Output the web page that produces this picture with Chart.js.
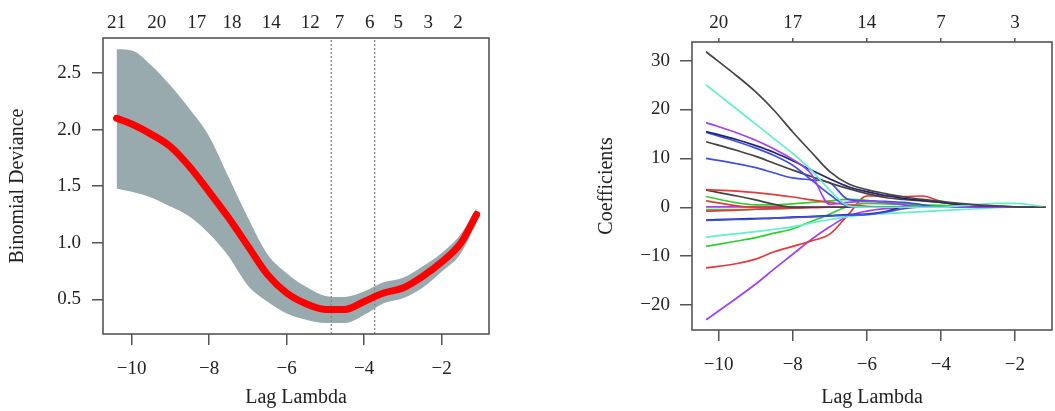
<!DOCTYPE html>
<html>
<head>
<meta charset="utf-8">
<script src="https://cdn.jsdelivr.net/npm/chart.js@4/dist/chart.umd.min.js"></script>
<style>
  html, body { margin: 0; padding: 0; background: #fff; }
  #wrap { position: relative; width: 1055px; height: 411px; overflow: hidden; }
  #cv { position: absolute; left: 0; top: 0; }
  #coef { position: absolute; left: 530px; top: 0; }
</style>
</head>
<body>
<div id="wrap">
  <canvas id="cv" width="530" height="411"></canvas>
  <canvas id="coef" width="525" height="411"></canvas>
</div>
<script>
// ── left panel: cross-validation curve ──
const cvLambda = [-10.39, -10, -9.5, -9, -8.5, -8, -7.5, -7, -6.5, -6, -5.5, -5, -4.5, -4, -3.5, -3, -2.5, -2, -1.5, -1.1];
const cvMean   = [2.10, 2.05, 1.96, 1.85, 1.67, 1.45, 1.22, 0.97, 0.72, 0.555, 0.46, 0.41, 0.41, 0.48, 0.555, 0.60, 0.70, 0.83, 1.0, 1.25];
const cvUpper  = [2.71, 2.70, 2.57, 2.39, 2.18, 1.94, 1.58, 1.22, 0.90, 0.73, 0.61, 0.53, 0.52, 0.57, 0.65, 0.69, 0.79, 0.91, 1.08, 1.31];
const cvLower  = [1.48, 1.45, 1.40, 1.32, 1.23, 1.08, 0.88, 0.62, 0.48, 0.375, 0.32, 0.29, 0.29, 0.36, 0.465, 0.51, 0.60, 0.745, 0.91, 1.19];
const cvCutoffs = [-4.85, -3.73];            // lambda.min, lambda.1se
const cvTopPos  = [-10.39, -9.35, -8.32, -7.41, -6.40, -5.39, -4.64, -3.86, -3.12, -2.35, -1.58];
const cvTopLbl  = ['21', '20', '17', '18', '14', '12', '7', '6', '5', '3', '2'];
const cvXTicks  = [-10, -8, -6, -4, -2];
const cvYTicks  = [0.5, 1.0, 1.5, 2.0, 2.5];

// ── right panel: coefficient paths ──
const cfLambda = [-10.34, -9.5, -9, -8.5, -8, -7.5, -7, -6.5, -6, -5.5, -5, -4.5, -4, -3.5, -3, -2.5, -2, -1.5, -1.18];
const cfPaths = [
  { col: '#444444', v: [31.8, 26.8, 23.6, 19.8, 15.4, 11.3, 7.3, 4.8, 3.6, 2.8, 2.1, 1.6, 1.2, 0.8, 0.5, 0.3, 0.1, 0, 0] },
  { col: '#66eec8', v: [25.0, 20.0, 17.0, 14.0, 11.0, 7.6, 3.5, 0.3, 0, 0, 0, 0, 0, 0.3, 0.6, 0.8, 0.8, 0.4, 0] },
  { col: '#a040f0', v: [17.3, 15.2, 13.7, 11.9, 9.8, 6.8, 0.6, 1.0, 1.2, 1.0, 0.5, 0, 0, 0, 0, 0, 0, 0, 0] },
  { col: '#22226e', v: [15.5, 13.8, 12.6, 11.2, 9.5, 7.6, 5.8, 4.2, 3.2, 2.4, 1.8, 1.4, 1.0, 0.6, 0.3, 0.1, 0, 0, 0] },
  { col: '#3f4fe0', v: [15.3, 13.4, 12.1, 10.6, 8.6, 5.6, 2.6, 0.2, 0, 0, 0, 0, 0, 0, 0, 0, 0, 0, 0] },
  { col: '#444444', v: [13.4, 11.6, 10.4, 9.0, 7.6, 6.3, 5.0, 3.8, 2.8, 2.0, 1.6, 1.3, 1.0, 0.6, 0.3, 0.1, 0, 0, 0] },
  { col: '#3f4fe0', v: [10.0, 8.9, 8.1, 7.0, 6.0, 5.6, 5.0, 1.6, 1.3, 1.2, 1.0, 0.5, 0, 0, 0, 0, 0, 0, 0] },
  { col: '#e03a3a', v: [3.6, 3.3, 3.0, 2.6, 2.1, 1.5, 1.0, 0.5, 0.2, 0, 0, 0, 0, 0, 0, 0, 0, 0, 0] },
  { col: '#444444', v: [3.5, 2.3, 1.5, 0.6, 0, 0, 0, 0, 0, 0, 0, 0, 0, 0, 0, 0, 0, 0, 0] },
  { col: '#33cc33', v: [2.2, 0.9, 0.5, 0.5, 0.7, 1.0, 1.3, 1.6, 1.4, 1.0, 0.7, 0.5, 0.4, 0.3, 0.3, 0.2, 0.1, 0.05, 0] },
  { col: '#e03a3a', v: [1.3, 0.3, 0, 0, 0, 0, 0, 0, 0, 0, 0, 0, 0, 0, 0, 0, 0, 0, 0] },
  { col: '#a040f0', v: [0.1, 0.1, 0.1, 0.1, 0.1, 0.1, 0.1, 0, 0, 0, 0, 0, 0, 0, 0, 0, 0, 0, 0] },
  { col: '#e03a3a', v: [-0.8, -0.6, -0.4, -0.3, -0.2, -0.1, 0, 0, 0, 0, 0, 0, 0, 0, 0, 0, 0, 0, 0] },
  { col: '#33cc33', v: [-0.5, -0.5, -0.4, -0.3, -0.2, 0, 0, 0, 0, 0, 0, 0, 0, 0, 0, 0, 0, 0, 0] },
  { col: '#3f4fe0', v: [-2.7, -2.5, -2.4, -2.2, -2.1, -1.9, -1.8, -1.6, -1.5, -1.0, -0.3, 0, 0, 0, 0, 0, 0, 0, 0] },
  { col: '#22226e', v: [-2.6, -2.4, -2.3, -2.2, -2.0, -1.9, -1.7, -1.5, -1.4, -0.9, 0, 0, 0, 0, 0, 0, 0, 0, 0] },
  { col: '#66eec8', v: [-6.1, -5.4, -5.0, -4.5, -4.0, -3.2, -2.5, -1.9, -1.5, -1.3, -1.1, -0.9, -0.7, -0.5, -0.3, -0.1, 0, 0, 0] },
  { col: '#33cc33', v: [-8.0, -6.9, -6.2, -5.3, -4.4, -2.9, -1.4, 0.2, 0.8, 0.7, 0.5, 0.3, 0.1, 0, 0, 0, 0, 0, 0] },
  { col: '#e03a3a', v: [-12.4, -11.5, -10.6, -9.1, -8.0, -6.9, -5.5, -1.5, 2.3, 2.3, 2.2, 2.3, 1.2, 0.5, 0.2, 0, 0, 0, 0] },
  { col: '#a040f0', v: [-23.0, -18.5, -15.7, -12.6, -9.6, -6.6, -4.0, -1.8, -0.8, -0.3, 0, 0, 0, 0, 0, 0, 0, 0, 0] }
];
const cfTopLbl = ['20', '17', '14', '7', '3'];
const cfXTicks = [-10, -8, -6, -4, -2];
const cfYTicks = [-20, -10, 0, 10, 20, 30];

const SERIF = '"Liberation Serif", "DejaVu Serif", serif';
const INK = '#222';

function fmtNum(v) {
  return v < 0 ? '\u2212' + Math.abs(v) : String(v);
}
function pts(xs, ys) {
  return xs.map((x, i) => ({ x, y: ys[i] }));
}
function fixTicks(vals) {
  return s => { s.ticks = vals.map(v => ({ value: v })); };
}

// R-style box around the plotting region
const boxPlugin = {
  id: 'box',
  afterDraw(chart) {
    const a = chart.chartArea, ctx = chart.ctx;
    ctx.save();
    ctx.strokeStyle = '#555';
    ctx.lineWidth = 1.6;
    ctx.strokeRect(a.left, a.top, a.right - a.left, a.bottom - a.top);
    ctx.restore();
  }
};

function axisX(min, max, ticks, fitH, title) {
  return {
    type: 'linear', position: 'bottom', min, max,
    afterBuildTicks: fixTicks(ticks),
    afterFit: s => { s.height = fitH; },
    border: { display: false },
    grid: { drawOnChartArea: false, tickLength: 11, tickColor: '#555', lineWidth: 1.5 },
    ticks: { color: INK, font: { family: SERIF, size: 19 }, padding: 13, autoSkip: false, maxRotation: 0,
             callback: v => fmtNum(v) },
    title: { display: true, text: title, color: INK, font: { family: SERIF, size: 20 }, padding: { top: 0, bottom: 1 } }
  };
}

// ── left chart ──
const yCvMin = 0.193, yCvMax = 2.81;
new Chart(document.getElementById('cv'), {
  type: 'line',
  data: {
    datasets: [
      { label: 'mean', data: pts(cvLambda, cvMean), xAxisID: 'x', yAxisID: 'y', order: 0,
        borderColor: '#ff0000', borderWidth: 7, borderCapStyle: 'round', pointRadius: 0,
        cubicInterpolationMode: 'monotone', fill: false },
      { label: 'min', data: [{ x: cvCutoffs[0], y: yCvMin }, { x: cvCutoffs[0], y: yCvMax }], order: 1,
        borderColor: '#888', borderWidth: 1.3, borderDash: [2, 2], pointRadius: 0, fill: false },
      { label: '1se', data: [{ x: cvCutoffs[1], y: yCvMin }, { x: cvCutoffs[1], y: yCvMax }], order: 1,
        borderColor: '#888', borderWidth: 1.3, borderDash: [2, 2], pointRadius: 0, fill: false },
      { label: 'upper', data: pts(cvLambda, cvUpper), order: 2, borderWidth: 0, pointRadius: 0,
        cubicInterpolationMode: 'monotone', backgroundColor: '#98aaae', fill: '+1' },
      { label: 'lower', data: pts(cvLambda, cvLower), order: 3, borderWidth: 0, pointRadius: 0,
        cubicInterpolationMode: 'monotone', fill: false }
    ]
  },
  options: {
    responsive: false, animation: false, devicePixelRatio: 1,
    layout: { padding: { left: 0, right: 41, top: 0, bottom: 0 } },
    plugins: { legend: { display: false }, tooltip: { enabled: false } },
    scales: {
      x: axisX(-10.74, -0.78, cvXTicks, 77, 'Lag Lambda'),
      xTop: {
        type: 'linear', position: 'top', min: -10.74, max: -0.78,
        afterBuildTicks: fixTicks(cvTopPos),
        afterFit: s => { s.height = 38; },
        border: { display: false },
        grid: { display: false, drawTicks: false },
        ticks: { color: INK, font: { family: SERIF, size: 19 }, padding: 4, autoSkip: false, maxRotation: 0,
                 callback: v => cvTopLbl[cvTopPos.indexOf(v)] }
      },
      y: {
        type: 'linear', position: 'left', min: yCvMin, max: yCvMax,
        afterBuildTicks: fixTicks(cvYTicks),
        afterFit: s => { s.width = 103; },
        border: { display: false },
        grid: { drawOnChartArea: false, tickLength: 11, tickColor: '#555', lineWidth: 1.5 },
        ticks: { color: INK, font: { family: SERIF, size: 19 }, padding: 11, callback: v => v.toFixed(1) },
        title: { display: true, text: 'Binomial Deviance', color: INK, font: { family: SERIF, size: 20 }, padding: { top: 6, bottom: 0 } }
      }
    }
  },
  plugins: [boxPlugin]
});

// ── right chart ──
new Chart(document.getElementById('coef'), {
  type: 'line',
  data: {
    datasets: cfPaths.map((p, i) => ({
      label: 'v' + (i + 1), data: pts(cfLambda, p.v),
      borderColor: p.col, borderWidth: 1.7, pointRadius: 0, cubicInterpolationMode: 'monotone', fill: false
    }))
  },
  options: {
    responsive: false, animation: false, devicePixelRatio: 1,
    layout: { padding: { left: 61, right: 3, top: 0, bottom: 0 } },
    plugins: { legend: { display: false }, tooltip: { enabled: false } },
    scales: {
      x: axisX(-10.72, -1.0, cfXTicks, 81, 'Lag Lambda'),
      xTop: {
        type: 'linear', position: 'top', min: -10.72, max: -1.0,
        afterBuildTicks: fixTicks(cfXTicks),
        afterFit: s => { s.height = 42; },
        border: { display: false },
        grid: { drawOnChartArea: false, tickLength: 4, tickColor: '#555', lineWidth: 1.5 },
        ticks: { color: INK, font: { family: SERIF, size: 19 }, padding: 4, autoSkip: false, maxRotation: 0,
                 callback: v => cfTopLbl[cfXTicks.indexOf(v)] }
      },
      y: {
        type: 'linear', position: 'left', min: -25.1, max: 33.8,
        afterBuildTicks: fixTicks(cfYTicks),
        afterFit: s => { s.width = 101; },
        border: { display: false },
        grid: { drawOnChartArea: false, tickLength: 12, tickColor: '#555', lineWidth: 1.5 },
        ticks: { color: INK, font: { family: SERIF, size: 19 }, padding: 10, callback: v => fmtNum(v) },
        title: { display: true, text: 'Coefficients', color: INK, font: { family: SERIF, size: 20 }, padding: { top: 4, bottom: 0 } }
      }
    }
  },
  plugins: [boxPlugin]
});
</script>
</body>
</html>
